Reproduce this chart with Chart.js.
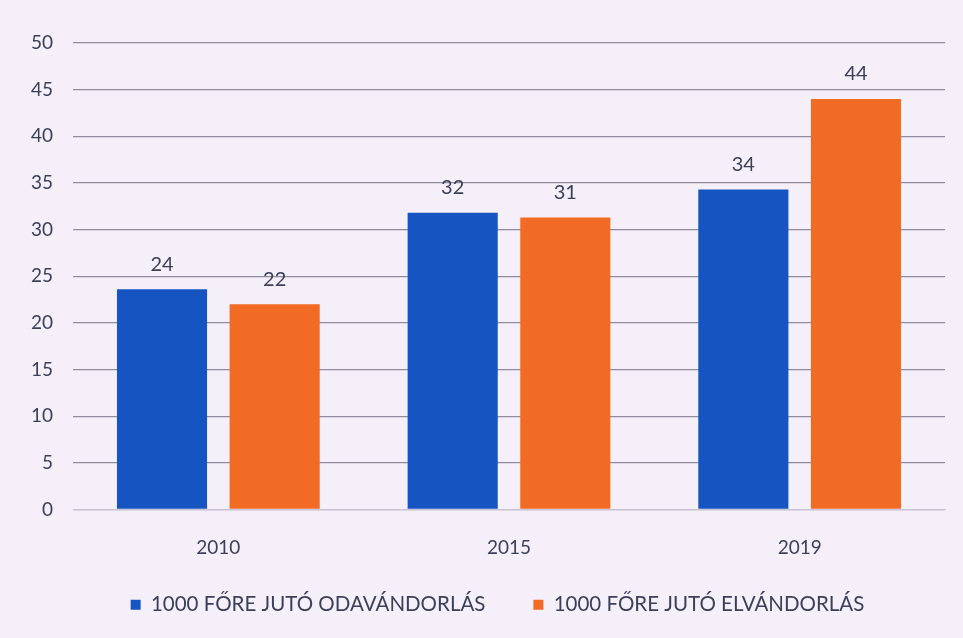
<!DOCTYPE html>
<html>
<head>
<meta charset="utf-8">
<script src="https://cdn.jsdelivr.net/npm/chart.js@4"></script>
<style>
html,body{margin:0;padding:0;background:#f4eff9;}
#wrap{width:963px;height:638px;position:relative;}
</style>
</head>
<body>
<div id="wrap"><canvas id="c" width="963" height="638"></canvas></div>
<script>
const categories = ['2010', '2015', '2019'];
const seriesNames = ['1000 FŐRE JUTÓ ODAVÁNDORLÁS', '1000 FŐRE JUTÓ ELVÁNDORLÁS'];
const odavandorlas = [23.6, 31.8, 34.3];
const elvandorlas = [22.0, 31.3, 44.0];
const yTicks = [0, 5, 10, 15, 20, 25, 30, 35, 40, 45, 50];

const FONT = 'Lato, "Open Sans", sans-serif';
const TEXT = '#3b3f58';

const bgPlugin = {
  id: 'bg',
  beforeDraw(chart) {
    const ctx = chart.ctx;
    ctx.save();
    ctx.fillStyle = '#f4eff9';
    ctx.fillRect(0, 0, chart.width, chart.height);
    ctx.restore();
  }
};

const legendShift = {
  id: 'legendShift',
  afterLayout(chart) {
    const lg = chart.legend;
    if (lg) {
      lg.top -= 15; lg.bottom -= 15;
      lg.left += 25; lg.right += 25;
    }
  }
};

const labelPlugin = {
  id: 'valueLabels',
  afterDatasetsDraw(chart) {
    const ctx = chart.ctx;
    ctx.save();
    ctx.font = '20px ' + FONT;
    ctx.fillStyle = TEXT;
    ctx.textAlign = 'center';
    ctx.textBaseline = 'bottom';
    chart.data.datasets.forEach((ds, di) => {
      const meta = chart.getDatasetMeta(di);
      meta.data.forEach((el, i) => {
        ctx.fillText(String(Math.round(ds.data[i])), el.x, el.y - 15);
      });
    });
    ctx.restore();
  }
};

new Chart(document.getElementById('c'), {
  type: 'bar',
  data: {
    labels: categories,
    datasets: [
      { label: seriesNames[0], data: odavandorlas, backgroundColor: '#1654c2', borderWidth: 0 },
      { label: seriesNames[1], data: elvandorlas, backgroundColor: '#f26b25', borderWidth: 0 }
    ]
  },
  options: {
    responsive: false,
    animation: false,
    devicePixelRatio: 1,
    categoryPercentage: 0.775,
    barPercentage: 0.8,
    layout: { padding: { left: 0, right: 18, top: 43, bottom: -2 } },
    plugins: {
      legend: {
        position: 'bottom',
        labels: {
          boxWidth: 10, boxHeight: 10, padding: 48,
          color: TEXT,
          font: { family: FONT, size: 20.5 }
        }
      },
      tooltip: { enabled: false }
    },
    scales: {
      x: {
        grid: { display: false },
        border: { display: true, color: '#c9c4d6', width: 1 },
        ticks: { color: TEXT, font: { family: FONT, size: 19 }, padding: 19 },
        afterFit(s) { s.height = 52; }
      },
      y: {
        min: 0, max: 50,
        afterBuildTicks(s) { s.ticks = yTicks.map(v => ({ value: v })); },
        grid: { color: '#8f8c9c', lineWidth: 1.3, drawTicks: false },
        border: { display: false },
        ticks: { color: TEXT, font: { family: FONT, size: 19 }, padding: 20 },
        afterFit(s) { s.width = 73; }
      }
    }
  },
  plugins: [bgPlugin, legendShift, labelPlugin]
});
</script>
</body>
</html>
